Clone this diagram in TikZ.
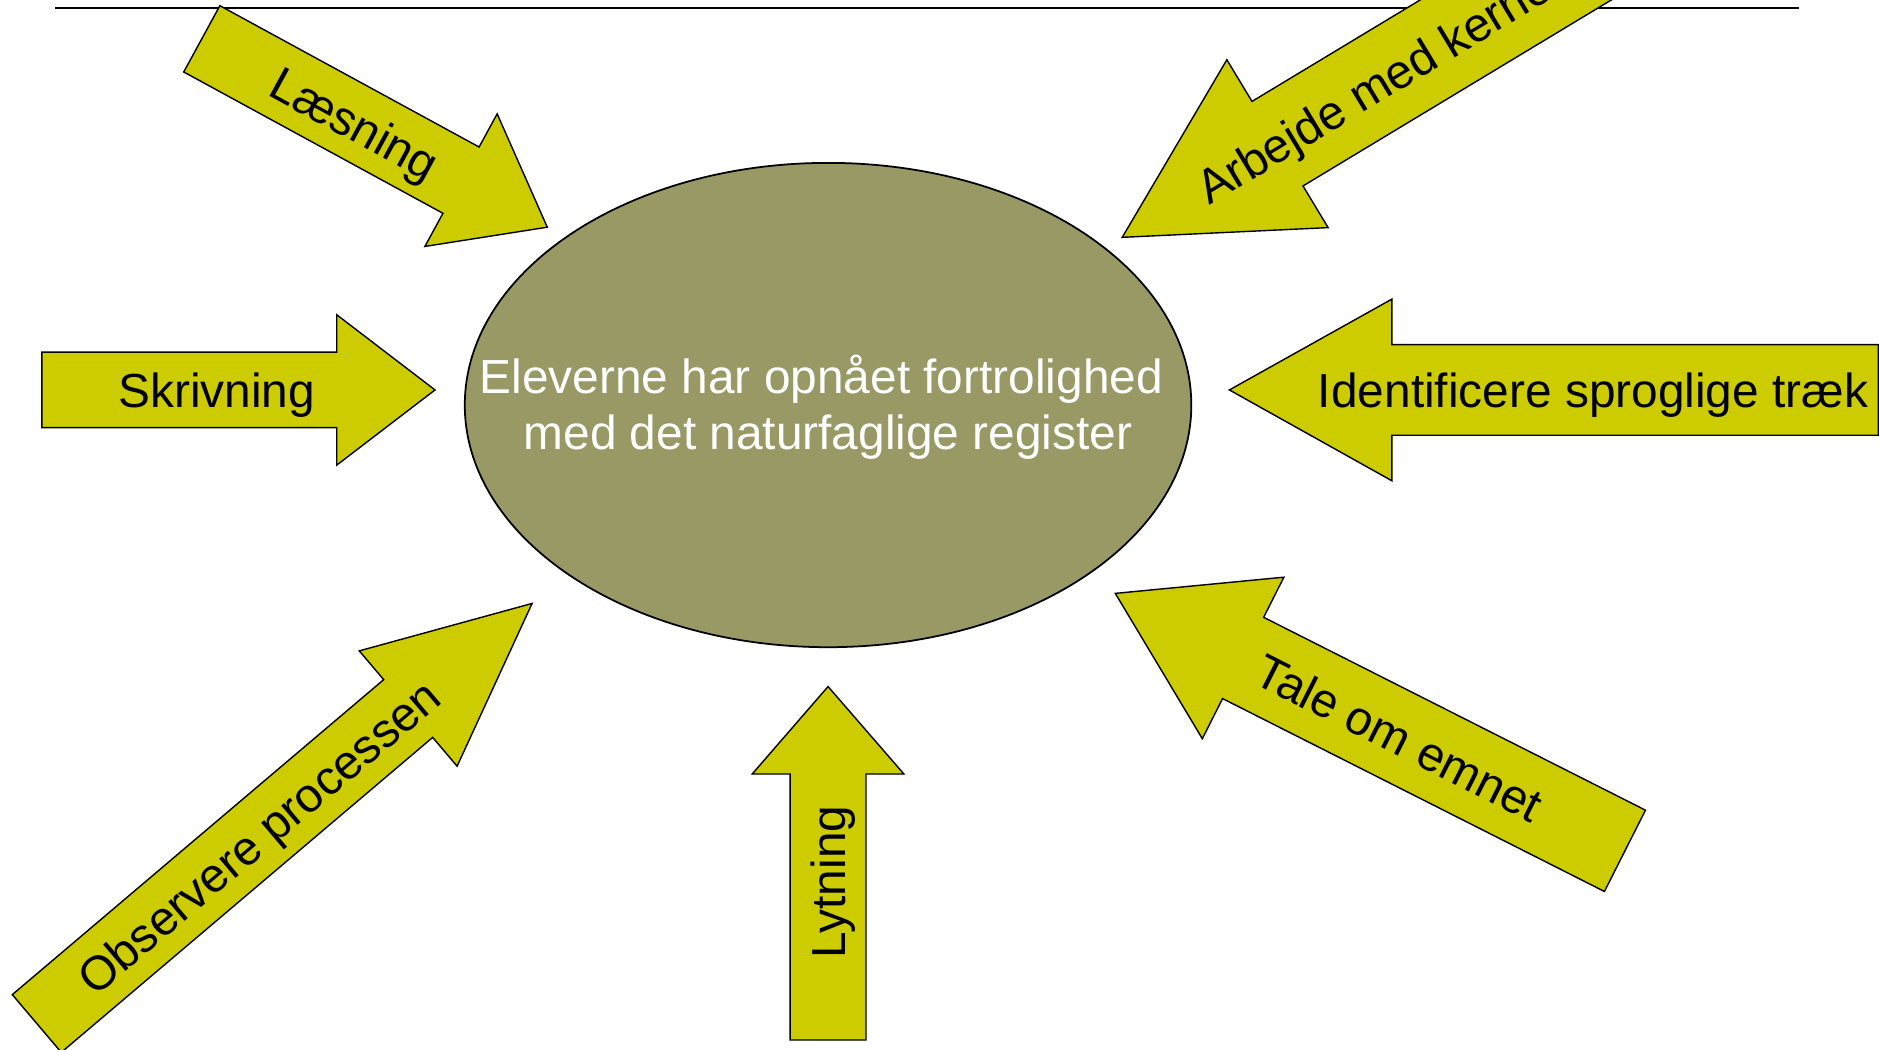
\documentclass[tikz,border=0pt]{standalone}
\usepackage{fontspec}
\setmainfont{Liberation Sans}
\usetikzlibrary{shapes.geometric}
\definecolor{pilgul}{HTML}{CCCC00}
\definecolor{oliven}{HTML}{999966}

\begin{document}
\begin{tikzpicture}[x=0.011983cm,y=-0.011983cm]
    \tikzstyle{pil}=[draw=black,fill=pilgul,line width=0.4pt];
    \tikzstyle{pilnavn}=[inner sep=0pt,text height=10.2pt,text depth=0pt,font=\fontsize{13.6}{16}\selectfont];
    \useasboundingbox (0,0) rectangle (1568,876);
    \clip (0,0) rectangle (1568,876);

    \draw[line width=0.6pt] (46,6.5) -- (1501,6.5);

    \node at (691,338) (maal) [ellipse,draw,fill=oliven,line width=0.5pt,minimum width=7.262cm,minimum height=4.841cm,inner sep=0pt] {};
    \node at (691,375) (maaltekst) [anchor=base,align=center,text=white,inner sep=0pt,font=\fontsize{13.6}{15.8}\selectfont] {Eleverne har opnået fortrolighed\kern0.28em\\med det naturfaglige register};

    % Læsning
    \begin{scope}[shift={(168.4,32.4)},rotate=-28.6]
      \draw[pil] (0,-31.5) -- (246.4,-31.5) -- (246.4,-63) -- (328.4,0) -- (246.4,63) -- (246.4,31.5) -- (0,31.5) -- cycle;
      \node at (146,0) (laesning) [pilnavn,rotate=-28.6] {Læsning};
    \end{scope}

    % Skrivning
    \begin{scope}[shift={(35,325.4)}]
      \draw[pil] (0,-31.5) -- (246,-31.5) -- (246,-62.75) -- (328,0) -- (246,62.75) -- (246,31.5) -- (0,31.5) -- cycle;
      \node at (145.8,0) (skrivning) [pilnavn] {Skrivning};
    \end{scope}

    % Lytning
    \begin{scope}[shift={(691,867.9)},rotate=90]
      \draw[pil] (0,-31.7) -- (222,-31.7) -- (222,-63.3) -- (295,0) -- (222,63.3) -- (222,31.7) -- (0,31.7) -- cycle;
      \node at (132,0) (lytning) [pilnavn,rotate=90] {Lytning};
    \end{scope}

    % Observere processen
    \begin{scope}[shift={(30.7,854.1)},rotate=40.3]
      \draw[pil] (0,-31.6) -- (406.4,-31.6) -- (406.4,-63.1) -- (542,0) -- (406.4,63.1) -- (406.4,31.6) -- (0,31.6) -- cycle;
      \node at (242,0) (observere) [pilnavn,rotate=40.3] {Observere processen};
    \end{scope}

    % Tale om emnet
    \begin{scope}[shift={(1356,710)},rotate=153.2]
      \draw[pil] (0,-38) -- (357,-38) -- (357,-75.5) -- (476.5,0) -- (357,75.5) -- (357,38) -- (0,38) -- cycle;
      \node at (210.5,0) (tale) [pilnavn,rotate=-26.8] {Tale om emnet};
    \end{scope}

    % Identificere sproglige træk
    \begin{scope}[shift={(1567.5,325.4)},rotate=180]
      \draw[pil] (0,-37.8) -- (406,-37.8) -- (406,-75.8) -- (541.6,0) -- (406,75.8) -- (406,37.8) -- (0,37.8) -- cycle;
      \node at (238.1,0) (identificere) [pilnavn] {Identificere sproglige træk};
    \end{scope}

    % Arbejde med kerne
    \begin{scope}[shift={(1416,-91.2)},rotate=-148.9]
      \draw[pil] (0,-41.2) -- (408.7,-41.2) -- (408.7,-81.8) -- (560,0) -- (408.7,81.8) -- (408.7,41.2) -- (0,41.2) -- cycle;
      \node at (485,0) (arbejde) [pilnavn,anchor=west,rotate=31.1] {Arbejde med kerne};
    \end{scope}
\end{tikzpicture}
\end{document}
